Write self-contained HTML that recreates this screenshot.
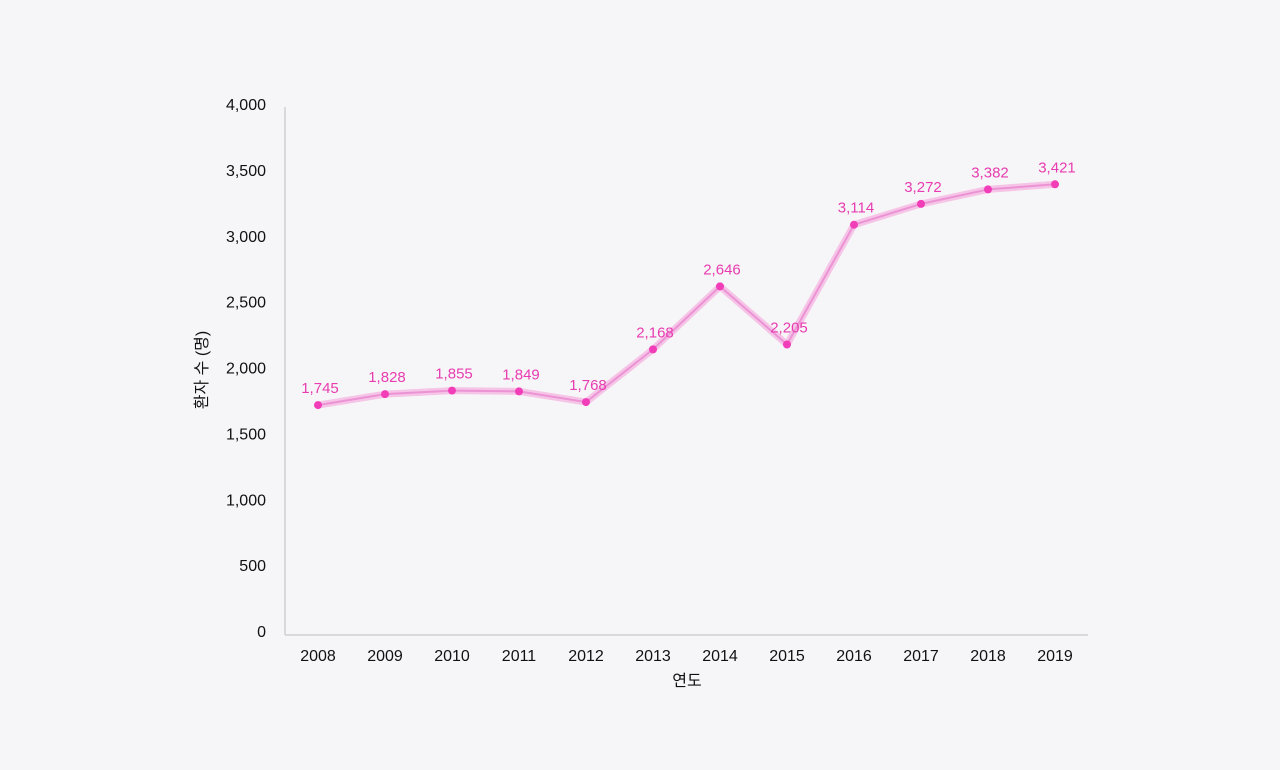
<!DOCTYPE html>
<html><head><meta charset="utf-8"><style>
body{margin:0;background:#f6f6f8;}
svg{display:block;font-family:"Liberation Sans","Noto Sans CJK KR",sans-serif;}
</style></head><body>
<svg width="1280" height="770" id="c">
<rect width="1280" height="770" fill="#f6f6f8"/>
</svg>
<script>
const years=["2008","2009","2010","2011","2012","2013","2014","2015","2016","2017","2018","2019"];
const values=[1745,1828,1855,1849,1768,2168,2646,2205,3114,3272,3382,3421];
const yTicks=[0,500,1000,1500,2000,2500,3000,3500,4000];
const svg=document.getElementById('c');
const NS='http://www.w3.org/2000/svg';
const x=i=>318+i*67;
const y=v=>635-v*(527/4000);
function mk(t,a,txt){const e=document.createElementNS(NS,t);for(const k in a)e.setAttribute(k,a[k]);if(txt!==undefined)e.textContent=txt;svg.appendChild(e);return e;}
const fmt=v=>v.toLocaleString('en-US');
let e;
e=mk('line',{x1:285,y1:107,x2:285,y2:635,stroke:'#cfcfd4','stroke-width':1.5});


e=mk('line',{x1:285,y1:635,x2:1088,y2:635,stroke:'#cfcfd4','stroke-width':1.5});


yTicks.forEach(v=>{
 e=mk('text',{x:266,y:y(v)+2,'text-anchor':'end','font-size':16,fill:'#111'},fmt(v));
 
 
});
years.forEach((t,i)=>{
 e=mk('text',{x:x(i),y:661,'text-anchor':'middle','font-size':16,fill:'#111'},t);
 
 
});
e=mk('text',{x:687,y:686,'text-anchor':'middle','font-size':16,fill:'#111'},'연도');


e=mk('text',{x:207,y:370,'text-anchor':'middle','font-size':16,fill:'#111',transform:'rotate(-90 207 370)'},'환자 수 (명)');


const pts=values.map((v,i)=>x(i)+','+y(v)).join(' ');
e=mk('polyline',{points:pts,fill:'none',stroke:'#f5c4e6','stroke-width':7,'stroke-linejoin':'round'});


e=mk('polyline',{points:pts,fill:'none',stroke:'#eb93d4','stroke-width':2,'stroke-linejoin':'round'});


values.forEach((v,i)=>{
 e=mk('circle',{cx:x(i),cy:y(v),r:4,fill:'#f23db9'});
 
 
 e=mk('text',{x:x(i)+2,y:y(v)-12,'text-anchor':'middle','font-size':15,fill:'#e83cb0'},fmt(v));
 
 
});
</script>
</body></html>
